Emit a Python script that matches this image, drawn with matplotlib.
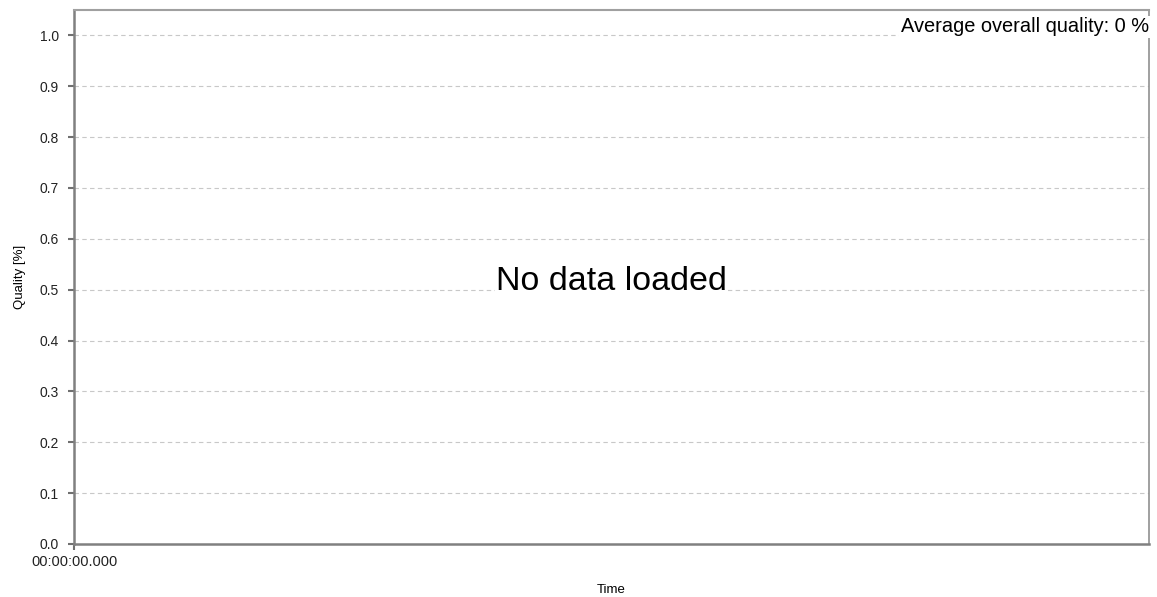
import numpy as np
import matplotlib
matplotlib.use('Agg')
import matplotlib.pyplot as plt

plt.rcParams['font.family'] = ['Liberation Sans', 'DejaVu Sans']

# chart data (nothing loaded)
time_values = []
quality_values = []
x_ticks = [0]
x_tick_labels = ['00:00:00.000']
y_ticks = [0.0, 0.1, 0.2, 0.3, 0.4, 0.5, 0.6, 0.7, 0.8, 0.9, 1.0]
average_quality = 0

fig = plt.figure(figsize=(11.57, 5.97), dpi=100)
ax = fig.add_axes([0.064, 0.0888, 0.929, 0.8945])

ax.plot(time_values, quality_values, color='#1f77b4')
ax.set_xlim(0, 1)
ax.set_ylim(0, 1.05)

ax.set_yticks(y_ticks)
ax.set_yticklabels(['%.1f' % v for v in y_ticks], fontsize=10, color='#222222')
ax.set_xticks(x_ticks)
ax.set_xticklabels(x_tick_labels, fontsize=10.5, color='#222222')

for v in y_ticks[1:]:
    ax.axhline(v, color='#c8c8c8', linestyle=(0, (4, 3)), linewidth=0.8, zorder=0)

ax.tick_params(axis='both', direction='out', length=4, width=1.5, color='#707070')
ax.tick_params(axis='y', pad=7)
ax.tick_params(axis='x', pad=4)

ax.spines['left'].set_color('#808080')
ax.spines['left'].set_linewidth(1.8)
ax.spines['bottom'].set_color('#808080')
ax.spines['bottom'].set_linewidth(1.8)
ax.spines['top'].set_color('#a0a0a0')
ax.spines['top'].set_linewidth(1.5)
ax.spines['right'].set_color('#909090')
ax.spines['right'].set_linewidth(1.2)

ax.set_xlabel('Time', fontsize=9.5)
ax.xaxis.set_label_coords(0.5, -0.074)
ax.set_ylabel('Quality [%]', fontsize=9.5)
ax.yaxis.set_label_coords(-0.045, 0.5)

ax.text(1.0, 0.986, 'Average overall quality: %d %%' % average_quality,
        transform=ax.transAxes, ha='right', va='top', fontsize=14.4,
        bbox=dict(facecolor='white', edgecolor='none', pad=1))
ax.text(0.5, 0.492, 'No data loaded', transform=ax.transAxes,
        ha='center', va='center', fontsize=24.5,
        bbox=dict(facecolor='white', edgecolor='none', pad=1))

fig.savefig('out.png', dpi=100)
